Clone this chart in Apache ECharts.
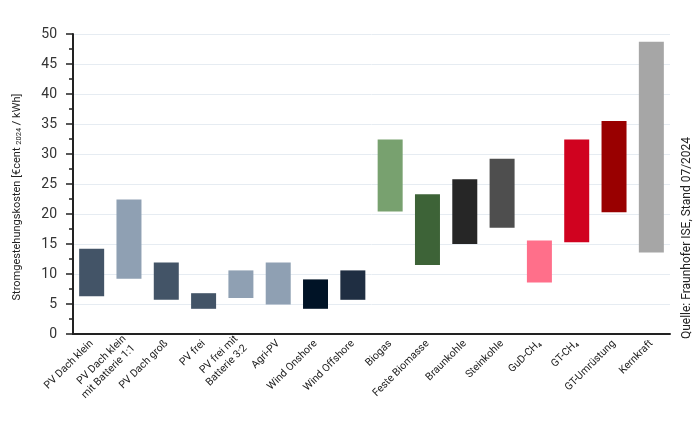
<!DOCTYPE html>
<html>
<head>
<meta charset="utf-8">
<script src="https://cdn.jsdelivr.net/npm/echarts@6/dist/echarts.min.js"></script>
<style>
html,body{margin:0;padding:0;background:#fff;}
#c{width:696px;height:433px;}
</style>
</head>
<body>
<div id="c"></div>
<script>
const categories = ['PV Dach klein','PV Dach klein\nmit Batterie 1:1','PV Dach groß','PV frei','PV frei mit\nBatterie 3:2','Agri-PV','Wind Onshore','Wind Offshore','Biogas','Feste Biomasse','Braunkohle','Steinkohle','GuD-CH₄','GT-CH₄','GT-Umrüstung','Kernkraft'];
const lowValues  = [6.3, 9.2, 5.7, 4.2, 6.0, 4.9, 4.2, 5.7, 20.4, 11.5, 15.0, 17.7, 8.6, 15.3, 20.3, 13.6];
const highValues = [14.2, 22.4, 11.9, 6.8, 10.6, 11.9, 9.1, 10.6, 32.4, 23.3, 25.8, 29.2, 15.6, 32.4, 35.5, 48.7];
const barColors  = ['#435467','#8fa0b3','#435467','#435467','#8fa0b3','#8fa0b3','#001326','#1f2e42','#78a16f','#3d6337','#262626','#4e4e4e','#ff6f8a','#d0021f','#990000','#a6a6a6'];
const yTicks = [0,5,10,15,20,25,30,35,40,45,50];

const chart = echarts.init(document.getElementById('c'), null, {renderer:'canvas'});
const FONT = 'Roboto';
chart.setOption({
  animation:false,
  grid:{left:73, top:34, width:597, height:300, containLabel:false},
  xAxis:{
    type:'category',
    data:categories,
    boundaryGap:true,
    axisLine:{lineStyle:{color:'#222', width:2}},
    axisTick:{alignWithLabel:true, length:6, lineStyle:{color:'#222', width:1.5}},
    axisLabel:{rotate:45, interval:0, color:'#222', fontFamily:FONT, fontSize:10.5, lineHeight:13, margin:8},
    splitLine:{show:false}
  },
  yAxis:{
    type:'value',
    min:yTicks[0], max:yTicks[yTicks.length-1], interval:5,
    name:'{a|Stromgestehungskosten [€cent }{b|2024}{a| / kWh]}',
    nameLocation:'middle', nameGap:50, nameRotate:90,
    nameTextStyle:{padding:[0,26,0,0], rich:{a:{fontFamily:FONT, fontSize:11, color:'#222'}, b:{fontFamily:FONT, fontSize:7.5, color:'#222', padding:[4,0,0,0]}}},
    axisLine:{show:true, lineStyle:{color:'#222', width:2}},
    axisTick:{show:true, length:7, lineStyle:{color:'#222', width:1.5}},
    minorTick:{show:true, splitNumber:2, length:4, lineStyle:{color:'#222', width:1.5}},
    axisLabel:{color:'#333', fontFamily:FONT, fontSize:14, margin:16},
    splitLine:{show:true, lineStyle:{color:'#e6ecf2', width:1}}
  },
  series:[
    {type:'bar', stack:'r', data:lowValues, itemStyle:{color:'transparent'}, barWidth:25, silent:true},
    {type:'bar', stack:'r', data:highValues.map((h,i)=>({value:+(h-lowValues[i]).toFixed(2), itemStyle:{color:barColors[i]}})), barWidth:25}
  ],
  graphic:[
    {type:'text', x:687, y:238, rotation:Math.PI/2,
     style:{text:'Quelle: Fraunhofer ISE, Stand 07/2024', font:'12px Roboto', fill:'#222', textAlign:'center', textVerticalAlign:'middle'}}
  ]
});
</script>
</body>
</html>
